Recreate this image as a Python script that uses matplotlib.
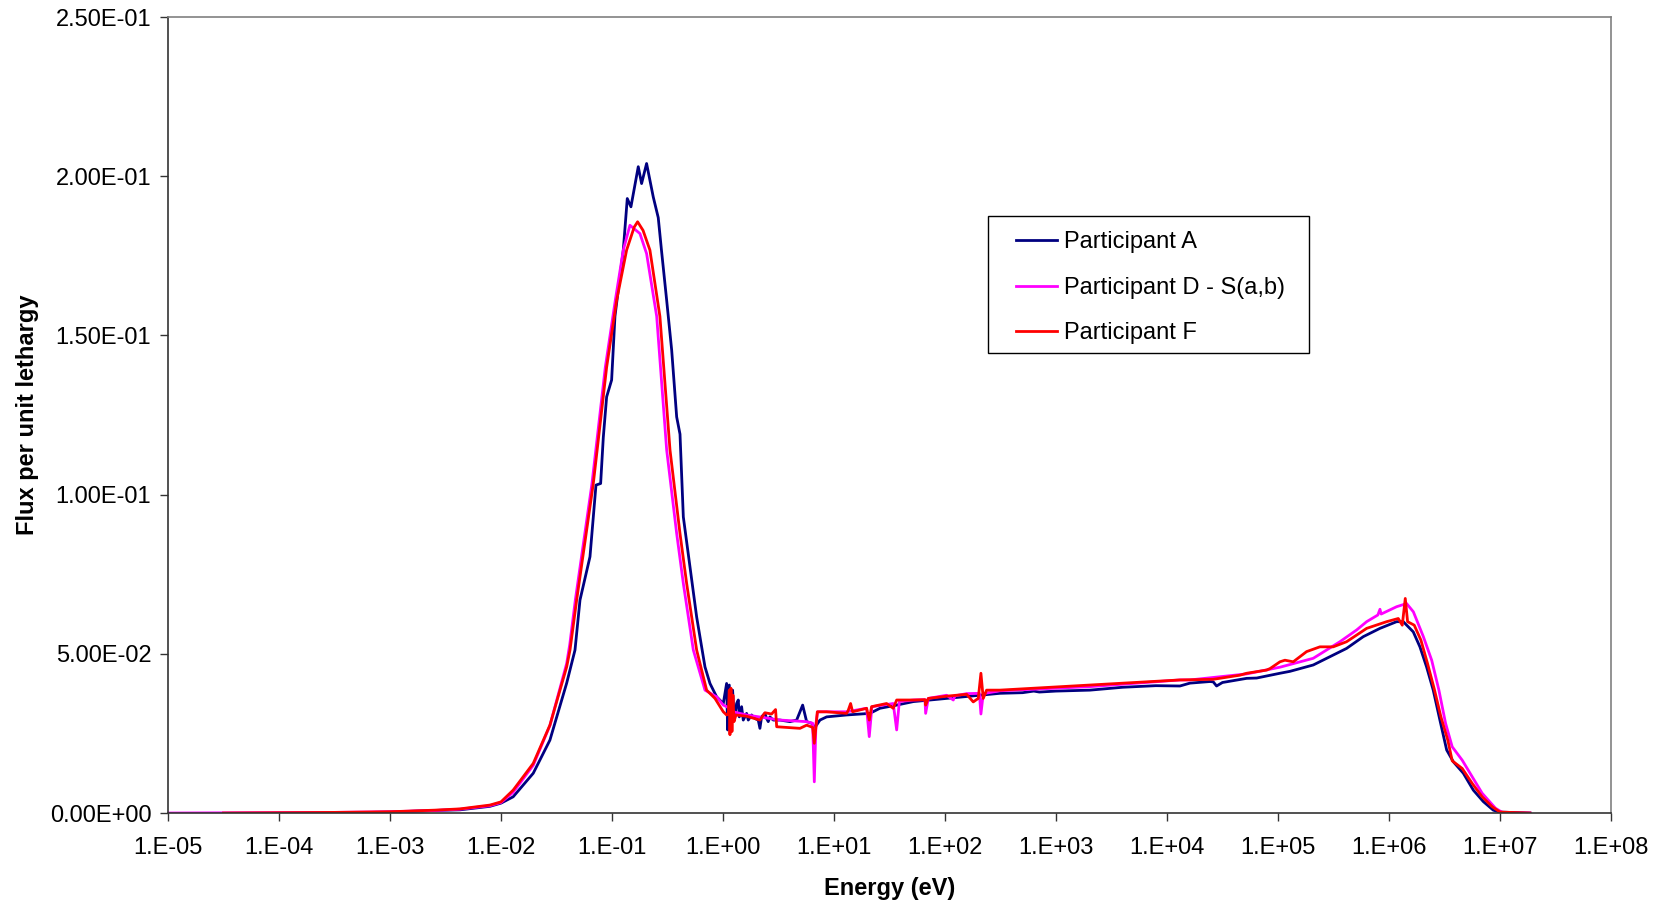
import numpy as np
import matplotlib
matplotlib.use("Agg")
import matplotlib.pyplot as plt
from matplotlib.patches import Rectangle
from matplotlib.ticker import FixedLocator, FuncFormatter

plt.rcParams['font.family'] = ['Liberation Sans', 'DejaVu Sans']

# log10(E / eV) and flux per unit lethargy, one pair of lists per participant
a_loge = [-3.5, -3.0, -2.6, -2.37, -2.1, -2.0, -1.89, -1.709, -1.559, -1.408, -1.333, -1.288,
          -1.198, -1.144, -1.102, -1.078, -1.048, -1.003, -0.973, -0.898, -0.862, -0.829,
          -0.763, -0.733, -0.688, -0.628, -0.583, -0.554, -0.507, -0.462, -0.417, -0.387,
          -0.357, -0.297, -0.237, -0.162, -0.117, -0.057, 0.003, 0.033, 0.042, 0.057,
          0.069, 0.087, 0.102, 0.123, 0.138, 0.147, 0.168, 0.183, 0.213, 0.228, 0.258,
          0.288, 0.318, 0.333, 0.348, 0.378, 0.393, 0.408, 0.423, 0.453, 0.514, 0.604,
          0.664, 0.718, 0.754, 0.799, 0.829, 0.874, 0.934, 1.114, 1.324, 1.414, 1.565,
          1.715, 2.015, 2.315, 2.495, 2.7, 2.8, 2.85, 3.0, 3.306, 3.6, 3.9, 4.117, 4.207,
          4.387, 4.417, 4.447, 4.5, 4.718, 4.808, 5.018, 5.108, 5.318, 5.468, 5.618,
          5.769, 5.919, 6.069, 6.129, 6.219, 6.279, 6.339, 6.399, 6.459, 6.52, 6.58,
          6.67, 6.76, 6.85, 6.94, 7.0, 7.27]
a_flux = [0.0, 0.0003, 0.0008, 0.0010, 0.0021, 0.0031, 0.0051, 0.0125, 0.0229, 0.0408, 0.0512,
          0.0669, 0.0805, 0.1030, 0.1035, 0.1180, 0.1307, 0.1360, 0.1560, 0.1768, 0.1930,
          0.1904, 0.2030, 0.1977, 0.2040, 0.1935, 0.1870, 0.1768, 0.1610, 0.1454, 0.1244,
          0.1190, 0.0930, 0.0773, 0.0616, 0.0459, 0.0407, 0.0365, 0.0344, 0.0407, 0.0261,
          0.0402, 0.0271, 0.0386, 0.0292, 0.0344, 0.0355, 0.0302, 0.0334, 0.0292, 0.0313,
          0.0292, 0.0308, 0.0297, 0.0292, 0.0266, 0.0302, 0.0313, 0.0297, 0.0287, 0.0302,
          0.0292, 0.0292, 0.0287, 0.0292, 0.0339, 0.0287, 0.0282, 0.0269, 0.0292, 0.0302,
          0.0308, 0.0313, 0.0329, 0.0339, 0.0350, 0.0360, 0.0370, 0.0376, 0.0378, 0.0383,
          0.0380, 0.0383, 0.0386, 0.0395, 0.0400, 0.0399, 0.0408, 0.0413, 0.0412, 0.0399,
          0.0410, 0.0423, 0.0424, 0.0439, 0.0445, 0.0465, 0.0491, 0.0517, 0.0554, 0.0580,
          0.0601, 0.0601, 0.0569, 0.0522, 0.0459, 0.0386, 0.0292, 0.0198, 0.0161, 0.0125,
          0.0072, 0.0036, 0.0009, 0.0003, 0.0]

d_loge = [-5.0, -3.5, -3.0, -2.6, -2.37, -2.1, -2.0, -1.89, -1.709, -1.559, -1.408, -1.38,
          -1.33, -1.18, -1.06, -0.97, -0.898, -0.838, -0.748, -0.688, -0.597, -0.507, -0.417,
          -0.357, -0.267, -0.162, -0.057, 0.003, 0.063, 0.093, 0.213, 0.363, 0.514, 0.754,
          0.808, 0.823, 0.838, 0.853, 1.114, 1.294, 1.318, 1.342, 1.534, 1.565, 1.589,
          1.715, 1.82, 1.826, 1.85, 2.015, 2.075, 2.09, 2.195, 2.31, 2.324, 2.345, 2.495,
          3.306, 4.117, 4.207, 4.718, 5.018, 5.318, 5.558, 5.709, 5.799, 5.9, 5.919, 5.93,
          6.069, 6.159, 6.22, 6.31, 6.385, 6.45, 6.51, 6.57, 6.66, 6.75, 6.84, 6.96, 7.03,
          7.27]
d_flux = [0.0, 0.0002, 0.0004, 0.0008, 0.0012, 0.0023, 0.0033, 0.0065, 0.0150, 0.0275, 0.0470,
          0.0530, 0.0669, 0.1035, 0.1400, 0.1610, 0.1768, 0.1846, 0.1820, 0.1757, 0.1560,
          0.1140, 0.0878, 0.0721, 0.0512, 0.0386, 0.0365, 0.0339, 0.0329, 0.0318, 0.0308,
          0.0300, 0.0292, 0.0287, 0.0282, 0.0098, 0.0282, 0.0318, 0.0318, 0.0329, 0.0240,
          0.0334, 0.0344, 0.0261, 0.0350, 0.0355, 0.0356, 0.0313, 0.0360, 0.0370, 0.0355,
          0.0368, 0.0375, 0.0376, 0.0311, 0.0375, 0.0384, 0.0397, 0.0418, 0.0418, 0.0437,
          0.0458, 0.0486, 0.0538, 0.0575, 0.0601, 0.0622, 0.0640, 0.0625, 0.0648, 0.0658,
          0.0632, 0.0554, 0.0480, 0.0386, 0.0282, 0.0208, 0.0166, 0.0114, 0.0062, 0.0015,
          0.0, 0.0]

f_loge = [-4.5, -3.5, -3.0, -2.6, -2.37, -2.1, -2.0, -1.89, -1.709, -1.559, -1.408, -1.378,
          -1.318, -1.168, -1.048, -0.958, -0.868, -0.80, -0.769, -0.72, -0.658, -0.568,
          -0.477, -0.387, -0.327, -0.237, -0.147, -0.072, 0.003, 0.033, 0.048, 0.057,
          0.063, 0.072, 0.081, 0.090, 0.099, 0.117, 0.213, 0.333, 0.378, 0.438, 0.474,
          0.484, 0.694, 0.754, 0.808, 0.823, 0.838, 0.850, 0.934, 1.114, 1.129, 1.150,
          1.168, 1.294, 1.318, 1.339, 1.474, 1.534, 1.565, 1.715, 1.82, 1.826, 1.85, 2.015,
          2.195, 2.255, 2.30, 2.324, 2.345, 2.375, 2.495, 3.306, 4.117, 4.417, 4.658,
          4.718, 4.898, 4.93, 5.018, 5.063, 5.138, 5.258, 5.378, 5.498, 5.618, 5.709,
          5.799, 5.979, 6.084, 6.12, 6.147, 6.168, 6.228, 6.288, 6.348, 6.408, 6.468,
          6.53, 6.57, 6.66, 6.75, 6.84, 6.93, 7.0, 7.27]
f_flux = [0.0, 0.0002, 0.0004, 0.0009, 0.0013, 0.0025, 0.0035, 0.0072, 0.0156, 0.0276, 0.0459,
          0.0512, 0.0669, 0.1035, 0.1400, 0.1610, 0.1768, 0.1840, 0.1857, 0.1830, 0.1768,
          0.1560, 0.1140, 0.0878, 0.0721, 0.0512, 0.0386, 0.0360, 0.0318, 0.0308, 0.0310,
          0.0386, 0.0246, 0.0392, 0.0256, 0.0370, 0.0287, 0.0308, 0.0304, 0.0292, 0.0315,
          0.0311, 0.0325, 0.0271, 0.0266, 0.0276, 0.0269, 0.0219, 0.0271, 0.0318, 0.0318,
          0.0313, 0.0323, 0.0344, 0.0318, 0.0329, 0.0292, 0.0334, 0.0344, 0.0329, 0.0355,
          0.0355, 0.0356, 0.0339, 0.0360, 0.0367, 0.0373, 0.0349, 0.0360, 0.0439, 0.0360,
          0.0386, 0.0386, 0.0402, 0.0418, 0.0420, 0.0433, 0.0439, 0.0449, 0.0454, 0.0475,
          0.0480, 0.0475, 0.0507, 0.0522, 0.0522, 0.0538, 0.0559, 0.0580, 0.0601, 0.0611,
          0.0590, 0.0674, 0.0601, 0.0590, 0.0543, 0.0469, 0.0390, 0.0302, 0.0229, 0.0164,
          0.0140, 0.0093, 0.0051, 0.0020, 0.0003, 0.0]

labels = ["Participant A", "Participant D - S(a,b)", "Participant F"]
colors = ["#000080", "#FF00FF", "#FF0000"]

fig = plt.figure(figsize=(16.63, 9.07), dpi=100)
ax = fig.add_axes([0.101, 0.1036, 0.8677, 0.8776])

for le, fl, lab, c in zip([a_loge, d_loge, f_loge], [a_flux, d_flux, f_flux], labels, colors):
    ax.plot(10.0 ** np.array(le), fl, color=c, lw=2.0, label=lab)

ax.set_xscale('log')
ax.set_xlim(1e-5, 1e8)
ax.set_ylim(0, 0.25)
ax.xaxis.set_major_locator(FixedLocator([10.0 ** k for k in range(-5, 9)]))
ax.xaxis.set_minor_locator(FixedLocator([]))
ax.xaxis.set_major_formatter(FuncFormatter(lambda v, p: "1.E%+03d" % round(np.log10(v))))
ax.set_yticks(np.arange(0, 0.2501, 0.05))
ax.yaxis.set_major_formatter(FuncFormatter(lambda v, p: "%.2E" % v))

ax.tick_params(axis='both', direction='out', length=6, width=1, color='#333333',
               labelsize=17)
ax.tick_params(axis='y', pad=6)
ax.tick_params(axis='x', pad=11)
for s in ['left', 'bottom']:
    ax.spines[s].set_color('#333333')
    ax.spines[s].set_linewidth(1.2)
for s in ['top', 'right']:
    ax.spines[s].set_color('#808080')
    ax.spines[s].set_linewidth(1.2)

ax.set_xlabel("Energy (eV)", fontsize=17, fontweight='bold', labelpad=13)
ax.set_ylabel("Flux per unit lethargy", fontsize=17, fontweight='bold', labelpad=8)

# legend box drawn separately so the padding can be wider than the default
ax.add_patch(Rectangle((0.5683, 0.578), 0.2225, 0.172, transform=ax.transAxes,
                       facecolor='white', edgecolor='black', lw=1.0, zorder=4))
leg = ax.legend(loc='upper left', bbox_to_anchor=(0.5877, 0.731), fontsize=17,
                frameon=False, handlelength=1.75, handletextpad=0.3,
                labelspacing=1.0, borderpad=0, borderaxespad=0)
leg.set_zorder(5)

fig.savefig("out.png", dpi=100)
